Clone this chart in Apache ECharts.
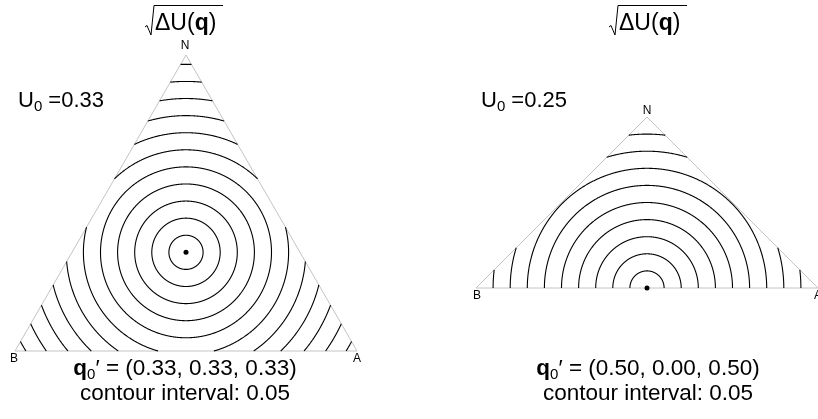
<!DOCTYPE html>
<html>
<head>
<meta charset="utf-8">
<script src="https://cdn.jsdelivr.net/npm/echarts@6/dist/echarts.min.js"></script>
<style>
  html, body { margin: 0; padding: 0; background: #fff; }
  #chart { width: 818px; height: 419px; }
</style>
</head>
<body>
<div id="chart"></div>
<script>
// Contours of sqrt(ΔU(q)) on the composition simplex, two reference points.
const vertexNames = ['N', 'B', 'A'];
const u0Values = [0.33, 0.25];
// reference compositions, ordered (A, N, B)
const q0Left = [0.33, 0.33, 0.33];
const q0Right = [0.50, 0.00, 0.50];
const contourInterval = 0.05;
const levelsLeft = [0.05, 0.10, 0.15, 0.20, 0.25, 0.30, 0.35, 0.40, 0.45, 0.50, 0.55];
const levelsRight = [0.05, 0.10, 0.15, 0.20, 0.25, 0.30, 0.35, 0.40, 0.45];

const FONT = '"Liberation Sans", Arial, Helvetica, sans-serif';

// Corner positions of each simplex in its own axis units (A, N, B)
const triLeft = { A: [1, 0], N: [0.5, Math.sqrt(3) / 2], B: [0, 0] };
const triRight = { A: [1, 0], N: [0.5, 0.5], B: [0, 0] };

function toXY(q, tri) {
  const s = q[0] + q[1] + q[2];
  const a = q[0] / s, n = q[1] / s, b = q[2] / s;
  return [a * tri.A[0] + n * tri.N[0] + b * tri.B[0],
          a * tri.A[1] + n * tri.N[1] + b * tri.B[1]];
}

function inside(p, tri) {
  const pts = [tri.B, tri.A, tri.N];
  const eps = 1e-9;
  for (let i = 0; i < 3; i++) {
    const u = pts[i], v = pts[(i + 1) % 3];
    const cross = (v[0] - u[0]) * (p[1] - u[1]) - (v[1] - u[1]) * (p[0] - u[0]);
    if (cross < -eps) return false;
  }
  return true;
}

// Circle of radius r about c, clipped to the triangle; returns polylines.
function clippedCircle(c, r, tri) {
  const N = 1440;
  const pt = t => [c[0] + r * Math.cos(t), c[1] + r * Math.sin(t)];
  const ins = t => inside(pt(t), tri);
  let t0 = null;
  for (let i = 0; i < N; i++) {
    const t = 2 * Math.PI * i / N;
    if (!ins(t)) { t0 = t; break; }
  }
  if (t0 === null) {
    const ring = [];
    for (let i = 0; i <= N; i++) ring.push(pt(2 * Math.PI * i / N));
    return [ring];
  }
  const edge = (a, b) => {
    const sa = ins(a);
    for (let k = 0; k < 40; k++) {
      const m = (a + b) / 2;
      if (ins(m) === sa) a = m; else b = m;
    }
    return (a + b) / 2;
  };
  const segs = [];
  let cur = null, prev = t0;
  for (let i = 1; i <= N; i++) {
    const t = t0 + 2 * Math.PI * i / N;
    const inn = ins(t);
    if (inn && !cur) cur = [pt(edge(prev, t))];
    if (inn) cur.push(pt(t));
    if (!inn && cur) {
      cur.push(pt(edge(prev, t)));
      if (cur.length > 2) segs.push(cur);
      cur = null;
    }
    prev = t;
  }
  if (cur && cur.length > 2) segs.push(cur);
  return segs;
}

function contourData(levels, center, tri) {
  const out = [];
  levels.forEach(r => clippedCircle(center, r, tri).forEach(seg => out.push({ coords: seg })));
  return out;
}

const cLeft = toXY(q0Left, triLeft);
const cRight = toXY(q0Right, triRight);

const fmt = v => v.toFixed(2);

function titleGroup(xText) {
  // radical sign + overbar, then ΔU(q)
  return [
    { type: 'polyline', shape: { points: [[xText - 10, 27], [xText - 8, 25.5], [xText - 4, 35], [xText - 1, 5.5], [xText + 68, 5.5]] },
      style: { stroke: '#000', lineWidth: 1, fill: null }, silent: true },
    { type: 'text', x: xText, y: 24,
      style: { text: '{n|ΔU(}{b|q}{n|)}', fill: '#000', textAlign: 'left', textVerticalAlign: 'middle', align: 'left', verticalAlign: 'middle',
        rich: { n: { fontSize: 23, fontFamily: FONT, fill: '#000' }, b: { fontSize: 23, fontFamily: FONT, fontWeight: 'bold', fill: '#000' } } } }
  ];
}

function richLine(x, y, text, align, size) {
  return { type: 'text', x: x, y: y,
    style: { text: text, fill: '#000', textAlign: align, align: align, textVerticalAlign: 'middle', verticalAlign: 'middle',
      rich: {
        m: { fontSize: size, fontFamily: FONT, lineHeight: 27, fill: '#000', verticalAlign: 'middle' },
        q: { fontSize: size, fontFamily: FONT, fontWeight: 'bold', lineHeight: 27, fill: '#000', verticalAlign: 'middle' },
        s: { fontSize: 15, fontFamily: FONT, lineHeight: 15, fill: '#000', verticalAlign: 'bottom' }
      } } };
}

function plainText(x, y, text, size) {
  return { type: 'text', x: x, y: y,
    style: { text: text, fill: '#000', font: size + 'px ' + FONT, textAlign: 'center', align: 'center', textVerticalAlign: 'middle', verticalAlign: 'middle' } };
}

const graphics = [].concat(
  titleGroup(155),
  titleGroup(619),
  [
    richLine(18, 101, '{m|U}{s|0}{m| =' + fmt(u0Values[0]) + '}', 'left', 22),
    richLine(481, 101, '{m|U}{s|0}{m| =' + fmt(u0Values[1]) + '}', 'left', 22),
    richLine(185, 369, '{q|q}{s|0}{m|′ = (' + q0Left.map(fmt).join(', ') + ')}', 'center', 22.5),
    richLine(648, 369, '{q|q}{s|0}{m|′ = (' + q0Right.map(fmt).join(', ') + ')}', 'center', 22.5),
    plainText(185, 394, 'contour interval: ' + fmt(contourInterval), 22.5),
    plainText(648, 394, 'contour interval: ' + fmt(contourInterval), 22.5),
    plainText(185, 46, vertexNames[0], 12),
    plainText(14, 359, vertexNames[1], 12),
    plainText(357, 359, vertexNames[2], 12),
    plainText(647, 111, vertexNames[0], 12),
    plainText(477, 296, vertexNames[1], 12),
    plainText(818, 296, vertexNames[2], 12)
  ]
);

const triCoords = tri => [tri.B, tri.A, tri.N, tri.B];

const option = {
  animation: false,
  backgroundColor: '#fff',
  grid: [
    { left: 15, top: 55, width: 342, height: 296 },
    { left: 476, top: 117, width: 342, height: 171 }
  ],
  xAxis: [
    { gridIndex: 0, type: 'value', min: 0, max: 1, show: false },
    { gridIndex: 1, type: 'value', min: 0, max: 1, show: false }
  ],
  yAxis: [
    { gridIndex: 0, type: 'value', min: 0, max: Math.sqrt(3) / 2, show: false },
    { gridIndex: 1, type: 'value', min: 0, max: 0.5, show: false }
  ],
  series: [
    { type: 'lines', coordinateSystem: 'cartesian2d', xAxisIndex: 0, yAxisIndex: 0, polyline: true, silent: true, clip: false,
      lineStyle: { color: '#c4c4c4', width: 1, opacity: 1 }, data: [{ coords: triCoords(triLeft) }] },
    { type: 'lines', coordinateSystem: 'cartesian2d', xAxisIndex: 1, yAxisIndex: 1, polyline: true, silent: true, clip: false,
      lineStyle: { color: '#c4c4c4', width: 1, opacity: 1 }, data: [{ coords: triCoords(triRight) }] },
    { type: 'lines', coordinateSystem: 'cartesian2d', xAxisIndex: 0, yAxisIndex: 0, polyline: true, silent: true, clip: false,
      lineStyle: { color: '#000', width: 1.1, opacity: 1 }, data: contourData(levelsLeft, cLeft, triLeft) },
    { type: 'lines', coordinateSystem: 'cartesian2d', xAxisIndex: 1, yAxisIndex: 1, polyline: true, silent: true, clip: false,
      lineStyle: { color: '#000', width: 1.1, opacity: 1 }, data: contourData(levelsRight, cRight, triRight) },
    { type: 'scatter', xAxisIndex: 0, yAxisIndex: 0, symbolSize: 5, itemStyle: { color: '#000', opacity: 1 }, silent: true, clip: false, data: [cLeft] },
    { type: 'scatter', xAxisIndex: 1, yAxisIndex: 1, symbolSize: 5, itemStyle: { color: '#000', opacity: 1 }, silent: true, clip: false, data: [cRight] }
  ],
  graphic: graphics
};

const chart = echarts.init(document.getElementById('chart'), null, { renderer: 'canvas' });
chart.setOption(option);
</script>
</body>
</html>
